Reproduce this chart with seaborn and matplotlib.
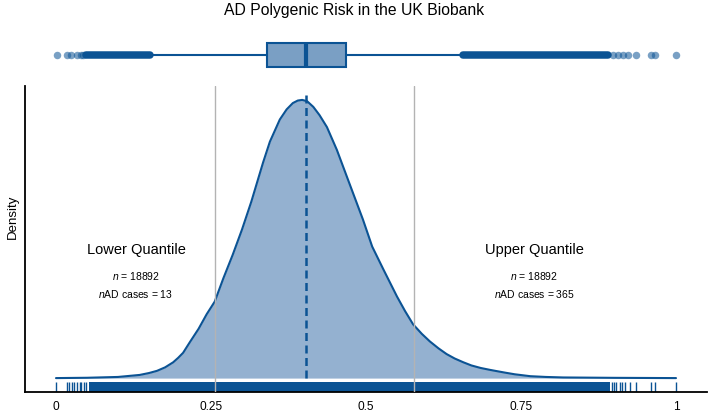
import matplotlib
matplotlib.use('Agg')
import matplotlib.pyplot as plt
import seaborn as sns

# density curve of the risk score
kde_x = [0.0, 0.05, 0.1, 0.135, 0.15, 0.163, 0.176, 0.189, 0.197, 0.205, 0.216, 0.23,
         0.243, 0.256, 0.27, 0.285, 0.30, 0.315, 0.334, 0.345, 0.361, 0.372, 0.382,
         0.39, 0.397, 0.405, 0.415, 0.425, 0.437, 0.453, 0.469, 0.482, 0.495, 0.51,
         0.528, 0.55, 0.563, 0.576, 0.59, 0.603, 0.617, 0.63, 0.643, 0.657, 0.67,
         0.685, 0.7, 0.711, 0.725, 0.74, 0.765, 0.79, 0.818, 0.9, 1.0]
kde_y = [0.0, 0.005, 0.018, 0.05, 0.08, 0.115, 0.17, 0.25, 0.32, 0.40, 0.57, 0.78,
         1.01, 1.21, 1.58, 1.95, 2.35, 2.79, 3.41, 3.74, 4.09, 4.25, 4.35,
         4.39, 4.40, 4.38, 4.29, 4.16, 3.97, 3.61, 3.19, 2.85, 2.51, 2.08,
         1.72, 1.29, 1.06, 0.85, 0.70, 0.58, 0.47, 0.38, 0.31, 0.25, 0.20,
         0.16, 0.13, 0.11, 0.085, 0.06, 0.03, 0.018, 0.01, 0.004, 0.0]

# boxplot summary
box_q1, box_med, box_q3 = 0.34, 0.404, 0.468
whisker_lo, whisker_hi = 0.156, 0.652
# single outliers, and the ranges where outliers pile up into a solid bar
outliers_low = [0.002, 0.018, 0.024, 0.034, 0.04, 0.044]
outlier_band_low = [0.048, 0.151]
outlier_band_high = [0.657, 0.89]
outliers_high = [0.898, 0.906, 0.914, 0.922, 0.935, 0.959, 0.966, 1.0]

# rug: isolated observations at both ends, solid in between
rug_low = [0.0, 0.017, 0.021, 0.025, 0.029, 0.034, 0.038, 0.041, 0.045, 0.049]
rug_band = [0.053, 0.893]
rug_high = [0.896, 0.900, 0.904, 0.909, 0.913, 0.918, 0.925, 0.935, 0.959, 0.966, 1.0]

quantile_cuts = [0.2565, 0.578]
group_labels = ['Lower Quantile', 'Upper Quantile']
group_n = [18892, 18892]
group_cases = [13, 365]

xticks = [0, 0.25, 0.5, 0.75, 1]
xtick_labels = ['0', '0.25', '0.5', '0.75', '1']

dark = '#0b5394'
fill = '#94b1d0'
boxfill = '#7a9fc4'

sns.set_style('white')
plt.rcParams['font.family'] = ['Liberation Sans', 'DejaVu Sans']
plt.rcParams['mathtext.fontset'] = 'custom'
plt.rcParams['mathtext.rm'] = 'Liberation Sans'
plt.rcParams['mathtext.it'] = 'Liberation Sans:italic'
plt.rcParams['text.color'] = 'black'
plt.rcParams['axes.labelcolor'] = 'black'
plt.rcParams['xtick.color'] = 'black'

fig = plt.figure(figsize=(7.08, 4.14), dpi=100)
ax = fig.add_axes([25 / 708, 21 / 414, 682 / 708, 306 / 414])
ax_box = fig.add_axes([25 / 708, 342 / 414, 682 / 708, 32 / 414], sharex=ax)

# top boxplot
stats = [dict(med=box_med, q1=box_q1, q3=box_q3, whislo=whisker_lo, whishi=whisker_hi,
              fliers=outliers_low + outliers_high)]
ax_box.bxp(stats, positions=[0], widths=0.72, orientation='horizontal', patch_artist=True,
           showcaps=False,
           boxprops=dict(facecolor=boxfill, edgecolor=dark, linewidth=1.5),
           medianprops=dict(color=dark, linewidth=3),
           whiskerprops=dict(color=dark, linewidth=1.5),
           flierprops=dict(marker='o', markersize=5.4, markerfacecolor=dark,
                           markeredgecolor='none', alpha=0.55))
for band in [outlier_band_low, outlier_band_high]:
    ax_box.plot(band, [0, 0], color=dark, lw=5.4, solid_capstyle='round', zorder=3)
ax_box.set_ylim(-0.5, 0.5)
ax_box.axis('off')

# density
ax.fill_between(kde_x, kde_y, color=fill, lw=0, zorder=1)
sns.lineplot(x=kde_x, y=kde_y, color=dark, lw=1.5, ax=ax, zorder=3)
ax.plot([box_med, box_med], [0, 4.52], color=dark, lw=1.8, ls=(0, (3.2, 1.8)), zorder=4)

# rug
ax.axvspan(rug_band[0], rug_band[1], ymin=0, ymax=0.033, color=dark, lw=0, zorder=2)
sns.rugplot(x=rug_low + rug_high, height=0.033, color=dark, lw=1, ax=ax,
            expand_margins=False, zorder=2)

for cut in quantile_cuts:
    ax.axvline(cut, color='#b3b3b3', lw=1, zorder=5)

# quantile annotations
for xpos, lab, n, cases in zip([0.129, 0.771], group_labels, group_n, group_cases):
    ax.text(xpos, 2.04, lab, ha='center', va='center', fontsize=10.5)
    ax.text(xpos, 1.63, f'$n$ = {n}', ha='center', va='center', fontsize=7.5)
    ax.text(xpos, 1.34, f'$n$AD cases = {cases}', ha='center', va='center', fontsize=7.5)

ax.set_xlim(-0.05, 1.05)
ax.set_ylim(-0.22, 4.62)
ax.set_xticks(xticks)
ax.set_xticklabels(xtick_labels, fontsize=8.6, color='black')
ax.set_yticks([])
ax.set_xlabel('')
ax.set_ylabel('Density', fontsize=9.5, color='black')
ax.yaxis.set_label_coords(-0.009, 0.577)
ax.tick_params(axis='x', length=4, width=1.2, color='black', pad=2)
for side in ['top', 'right']:
    ax.spines[side].set_visible(False)
for side in ['left', 'bottom']:
    ax.spines[side].set_color('black')
    ax.spines[side].set_linewidth(1.3)

fig.text(0.5, 1 - 10 / 414, 'AD Polygenic Risk in the UK Biobank', ha='center', va='center',
         fontsize=11.3, color='black')

fig.savefig('out.png', dpi=100)
